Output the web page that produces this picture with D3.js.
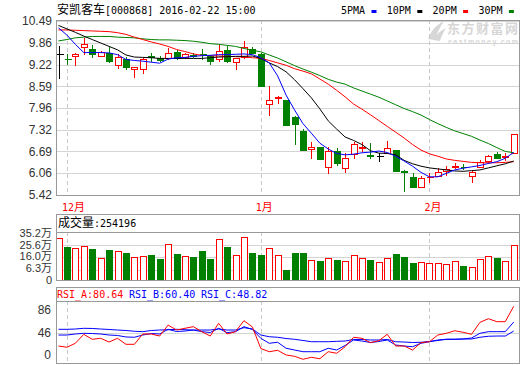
<!DOCTYPE html>
<html>
<head>
<meta charset="utf-8">
<title>安凯客车 K线</title>
<style>
  html, body { margin: 0; padding: 0; background: #fff; }
  svg { display: block; }
  text { white-space: pre; }
</style>
<script src="https://cdn.jsdelivr.net/npm/d3@7/dist/d3.min.js"></script>
</head>
<body>
<svg id="chart" width="520" height="365"></svg>
<script>
// ---- data ----
const dates = [
  '2015-11-30','2015-12-01','2015-12-02','2015-12-03','2015-12-04','2015-12-07','2015-12-08','2015-12-09','2015-12-10','2015-12-11',
  '2015-12-14','2015-12-15','2015-12-16','2015-12-17','2015-12-18','2015-12-21','2015-12-22','2015-12-23','2015-12-24','2015-12-25',
  '2015-12-28','2015-12-29','2015-12-30','2015-12-31','2016-01-04','2016-01-05','2016-01-06','2016-01-07','2016-01-08','2016-01-11',
  '2016-01-12','2016-01-13','2016-01-14','2016-01-15','2016-01-18','2016-01-19','2016-01-20','2016-01-21','2016-01-22','2016-01-25',
  '2016-01-26','2016-01-27','2016-01-28','2016-01-29','2016-02-01','2016-02-02','2016-02-03','2016-02-04','2016-02-05','2016-02-15',
  '2016-02-16','2016-02-17','2016-02-18','2016-02-19','2016-02-22'];
const open = [9.52,9.39,9.47,9.72,9.67,9.47,9.55,9.20,9.37,9.10, 9.10,9.46,9.42,9.40,9.60,9.45,9.50,9.54,9.47,9.37,
  9.64,9.29,9.45,9.67,9.53,8.06,8.24,8.19,7.68,7.29, 6.75,6.83,6.23,6.70,6.20,6.61,6.78,6.58,6.57,6.65,
  6.73,6.12,5.95,5.66,5.93,5.98,6.13,6.23,6.25,5.98, 6.24,6.41,6.62,6.52,6.65];
const high = [9.77,9.52,9.57,9.99,9.79,9.62,9.72,9.53,9.45,9.14, 9.40,9.55,9.47,9.69,9.65,9.57,9.55,9.67,9.50,9.79,
  9.76,9.40,9.91,9.72,9.55,8.60,8.31,8.19,7.72,7.34, 6.96,6.83,6.83,6.78,6.64,6.97,6.97,6.93,6.64,6.99,
  6.73,6.15,6.05,5.97,6.07,6.22,6.27,6.36,6.32,6.15, 6.44,6.58,6.66,6.65,7.21];
const low = [8.82,9.23,9.20,9.52,9.43,9.47,9.30,9.13,9.08,8.87, 8.97,9.33,9.33,9.37,9.38,9.42,9.44,9.37,9.24,9.33,
  9.30,9.10,9.40,9.55,8.60,7.75,8.11,7.46,6.91,6.73, 6.51,6.47,6.07,6.29,6.10,6.49,6.70,6.51,6.41,6.64,
  6.13,5.55,5.64,5.66,5.81,5.98,5.99,6.22,6.17,5.81, 6.23,6.34,6.49,6.44,6.65];
const close = [9.52,9.38,9.52,9.82,9.52,9.59,9.33,9.43,9.14,9.14, 9.37,9.45,9.35,9.57,9.40,9.52,9.47,9.53,9.33,9.62,
  9.33,9.40,9.72,9.57,8.60,8.18,8.28,7.46,7.49,6.73, 6.82,6.47,6.70,6.34,6.49,6.91,6.83,6.57,6.57,6.78,
  6.13,6.08,5.66,5.91,5.94,6.10,6.19,6.27,6.24,6.10, 6.39,6.56,6.51,6.56,7.21];
// volume in 万股
const volume = [30.8,24.0,23.0,24.6,22.5,15.2,21.7,20.7,19.3,16.0, 16.8,17.8,14.7,26.1,18.6,16.8,16.2,20.9,14.7,30.0,
  24.0,17.5,31.6,19.3,17.8,23.0,17.5,6.1,19.3,19.3, 13.6,13.1,15.2,13.9,12.9,17.5,15.2,13.9,12.1,15.2,
  18.6,16.2,11.5,12.1,11.5,11.3,10.5,12.9,9.2,8.2, 14.4,16.8,15.4,12.9,25.4196];
const ma5 = [10.29,10.08,9.81,9.57,9.57,9.57,9.56,9.51,9.37,9.34, 9.32,9.29,9.26,9.38,9.42,9.43,9.46,9.48,9.49,9.51,
  9.51,9.52,9.53,9.51,9.42,9.27,8.89,8.33,7.90,7.50, 7.22,6.93,6.76,6.63,6.59,6.61,6.65,6.67,6.70,6.66,
  6.55,6.41,6.26,6.08,5.95,5.95,6.05,6.15,6.20,6.24, 6.28,6.34,6.39,6.49,6.66];
const ma10 = [10.36,10.26,10.16,10.05,9.95,9.85,9.75,9.65,9.50,9.44, 9.43,9.42,9.40,9.40,9.40,9.40,9.40,9.40,9.42,9.44,
  9.45,9.46,9.46,9.47,9.40,9.27,9.16,9.01,8.78,8.52, 8.25,7.93,7.58,7.34,7.11,7.01,6.89,6.71,6.64,6.63,
  6.59,6.43,6.33,6.26,6.21,6.18,6.15,6.12,6.11,6.13, 6.15,6.21,6.27,6.33,6.41];
const ma20 = [10.23,10.23,10.22,10.21,10.20,10.19,10.18,10.15,10.10,10.02, 9.95,9.88,9.82,9.75,9.66,9.60,9.53,9.49,9.48,9.47,
  9.46,9.45,9.44,9.42,9.40,9.34,9.27,9.20,9.10,9.03, 8.95,8.80,8.65,8.47,8.28,8.07,7.92,7.76,7.59,7.42,
  7.25,7.08,6.89,6.73,6.62,6.55,6.47,6.43,6.40,6.37, 6.36,6.36,6.36,6.37,6.39];
const ma30 = [9.91,9.95,10.00,10.02,10.04,10.04,10.04,10.02,10.01,10.00, 9.97,9.95,9.94,9.94,9.93,9.92,9.90,9.87,9.83,9.81,
  9.78,9.75,9.69,9.64,9.59,9.50,9.41,9.30,9.19,9.09, 9.00,8.90,8.79,8.71,8.65,8.54,8.45,8.36,8.27,8.16,
  8.05,7.94,7.85,7.75,7.62,7.50,7.39,7.29,7.21,7.13, 7.02,6.92,6.80,6.69,6.65];
const rsiA = [29.7,28.1,33.2,44.7,38.3,39.6,34.8,39.6,31.9,31.9, 45.1,45.1,42.5,56.6,50.2,52.4,54.5,48.1,42.5,58.8,
  45.1,48.1,62.2,54.1,26.5,22.4,24.2,18.2,16.5,12.7, 15.2,13.4,22.4,20.4,28.8,40.9,39.6,34.0,36.5,44.7,
  29.7,29.7,24.6,34.0,35.2,43.8,46.0,49.3,47.3,44.7, 60.1,64.7,60.9,60.9,80.64];
const rsiB = [43.8,43.8,45.1,46.0,45.7,45.1,43.8,43.2,41.3,40.9, 43.8,45.7,45.1,51.1,48.3,48.9,50.2,48.1,47.0,52.4,
  46.8,48.1,54.5,50.9,39.6,33.2,34.5,26.8,24.6,22.4, 22.4,22.4,26.8,24.6,30.4,37.4,36.1,34.2,35.5,37.4,
  31.0,29.7,28.8,33.2,35.2,37.4,38.3,38.3,38.7,40.0, 46.0,48.1,48.1,48.1,60.40];
const rsiC = [51.1,51.1,51.5,52.4,52.2,51.5,50.9,50.2,49.6,48.6, 48.1,49.6,50.2,50.6,51.1,50.6,50.2,50.2,50.2,51.5,
  50.2,50.2,53.2,51.5,43.8,41.6,40.9,39.3,38.3,36.8, 35.2,35.2,35.2,35.7,36.1,38.1,38.1,37.4,37.4,38.1,
  35.2,34.8,34.2,34.5,35.5,36.8,38.3,38.4,38.7,38.7, 40.9,42.2,42.5,42.5,48.82];

const priceTicks = [10.49, 9.86, 9.22, 8.59, 7.96, 7.32, 6.69, 6.06, 5.42];
const volTicks = [35.2, 25.6, 16.0, 6.3];
const volTickLabels = ['35.2万', '25.6万', '16.0万', '6.3万', '0'];
const rsiTickLabels = ['86', '46', '0'];
const monthStarts = ['2015-12-01', '2016-01-04', '2016-02-01'];
const monthLabels = ['12月', '1月', '2月'];
const maNames = ['5PMA', '10PM', '20PM', '30PM'];

// ---- layout ----
const RED = '#ff0000', GREEN = '#008000', BLUE = '#0000ff';
const BORDER = '#999', GRID = '#d4d4d4';
const L = 56, R = 519;
const main = {top: 20, bottom: 195};
const volHead = {top: 214, bottom: 232};
const vol = {top: 232, bottom: 280};
const rsiHead = {top: 287, bottom: 301};
const rsiBox = {top: 301, bottom: 363};
const MONO = '"DejaVu Sans Mono", monospace';
const CJK = '"Noto Sans CJK SC", sans-serif';
const SANS = '"Liberation Sans", "Noto Sans CJK SC", sans-serif';

const px = v => Math.round(v) + 0.5;
const svg = d3.select('#chart');

const x = d3.scalePoint().domain(dates).range([58.5, 513.7]);
const yP = d3.scaleLinear().domain([5.42, 10.49]).range([main.bottom, 21]);
const yV = d3.scaleLinear().domain([0, 35.2]).range([277.8, 232.7]);
const yVLabel = d3.scalePoint().domain(volTickLabels).range([232.7, 280]);
const yR = d3.scaleLinear().domain([46, 86]).range([333.3, 302.1]);
const yRLabel = d3.scalePoint().domain(rsiTickLabels).range([310, 355]);

// mixed text: ascii in mono, cjk in a CJK face
function mixText(sel, str, asciiSize, cjkSize) {
  str.split(/([\u3000-\u9fff]+)/).filter(s => s.length).forEach(part => {
    const isCjk = /[\u3000-\u9fff]/.test(part);
    sel.append('tspan')
      .attr('font-family', isCjk ? CJK : MONO)
      .attr('font-size', isCjk ? cjkSize : asciiSize)
      .text(part);
  });
  return sel;
}

// ---- header ----
mixText(svg.append('text').attr('x', 57).attr('y', 14).attr('fill', '#000'),
  '安凯客车[000868] 2016-02-22 15:00', 10, 12);

const maColors = [BLUE, '#000', RED, GREEN];
const legend = svg.append('g').selectAll('g').data(maNames).join('g')
  .attr('transform', (d, i) => `translate(${341 + i * 45.8},0)`);
legend.append('text').attr('y', 14).attr('font-family', MONO).attr('font-size', 10).text(d => d);
legend.append('rect').attr('x', 30.5).attr('y', 10).attr('width', 5).attr('height', 3)
  .attr('fill', (d, i) => maColors[i]);

// watermark
const wm = svg.append('g').attr('fill', '#d6d6d6');
wm.append('path').attr('d', 'M428,39 C431,31 436,25 444,21 C440,27 437,33 435,40 Z M433,40 C437,34 441,30 446,28 C443,33 441,37 440,41 Z');
wm.append('text').attr('x', 447).attr('y', 33).attr('font-family', CJK).attr('font-weight', 'bold')
  .attr('font-size', 13).attr('textLength', 71).text('东方财富网');
wm.append('text').attr('x', 448).attr('y', 44).attr('font-family', '"Liberation Sans", sans-serif')
  .attr('font-weight', 'bold').attr('font-size', 7).attr('textLength', 70).text('eastmoney.com');

// ---- grids ----
const grid = svg.append('g').attr('stroke', GRID).attr('shape-rendering', 'crispEdges');
grid.selectAll('.gp').data(priceTicks).join('line').attr('class', 'gp')
  .attr('x1', L).attr('x2', R).attr('y1', d => px(yP(d))).attr('y2', d => px(yP(d)));
grid.selectAll('.gv').data(volTicks.filter(d => d < 35.2)).join('line').attr('class', 'gv')
  .attr('x1', L).attr('x2', R).attr('y1', d => px(yV(d))).attr('y2', d => px(yV(d)));
grid.append('line').attr('x1', L).attr('x2', R).attr('y1', px(yR(46))).attr('y2', px(yR(46)));

const dash = svg.append('g').attr('stroke', '#c8c8c8').attr('stroke-dasharray', '4,3')
  .attr('shape-rendering', 'crispEdges');
[main, vol, rsiBox].forEach(p => {
  dash.append('g').selectAll('line').data(monthStarts).join('line')
    .attr('x1', d => px(x(d))).attr('x2', d => px(x(d)))
    .attr('y1', p.top).attr('y2', p.bottom);
});

// ---- axes ----
function styleAxis(g, size) {
  g.select('.domain').remove();
  g.attr('font-family', SANS).attr('font-size', size).attr('color', '#333');
}
svg.append('g').attr('transform', `translate(${L},0)`)
  .call(d3.axisLeft(yP).tickValues(priceTicks).tickSize(0).tickPadding(4).tickFormat(d3.format('.2f')))
  .call(g => styleAxis(g, 12));
svg.append('g').attr('transform', `translate(${L},0)`)
  .call(d3.axisLeft(yVLabel).tickSize(0).tickPadding(4))
  .call(g => styleAxis(g, 11));
svg.append('g').attr('transform', `translate(${L},0)`)
  .call(d3.axisLeft(yRLabel).tickSize(0).tickPadding(5))
  .call(g => styleAxis(g, 12));

// month labels
svg.append('g').selectAll('text').data(monthStarts).join('text')
  .attr('x', d => x(d) - 5).attr('y', 211).attr('fill', RED)
  .each(function (d, i) { mixText(d3.select(this), monthLabels[i], 10, 11); });

// ---- candles ----
const bars = dates.map((d, i) => ({date: d, o: open[i], h: high[i], l: low[i], c: close[i], v: volume[i]}));
const candleColor = d => d.c > d.o ? RED : d.c < d.o ? GREEN : '#000';
const cg = svg.append('g').attr('shape-rendering', 'crispEdges');
cg.selectAll('.wick').data(bars).join('line').attr('class', 'wick')
  .attr('x1', d => px(x(d.date))).attr('x2', d => px(x(d.date)))
  .attr('y1', d => Math.round(yP(d.h))).attr('y2', d => Math.round(yP(d.l)) + 1)
  .attr('stroke', candleColor);
const bodyTop = d => Math.round(yP(Math.max(d.o, d.c)));
const bodyH = d => Math.round(yP(Math.min(d.o, d.c))) - bodyTop(d);
cg.selectAll('.body').data(bars.filter(d => bodyH(d) >= 1)).join('rect').attr('class', 'body')
  .attr('x', d => px(x(d.date)) - 3).attr('y', d => bodyTop(d) + 0.5)
  .attr('width', 6).attr('height', bodyH)
  .attr('fill', d => d.c > d.o ? '#fff' : GREEN).attr('stroke', candleColor);
cg.selectAll('.cross').data(bars.filter(d => bodyH(d) < 1)).join('line').attr('class', 'cross')
  .attr('x1', d => px(x(d.date)) - 3).attr('x2', d => px(x(d.date)) + 4)
  .attr('y1', d => bodyTop(d) + 0.5).attr('y2', d => bodyTop(d) + 0.5)
  .attr('stroke', candleColor);

// ---- moving averages ----
const priceLine = d3.line().x((d, i) => x(dates[i])).y(d => yP(d));
[ma30, ma20, ma10, ma5].forEach((s, k) => {
  svg.append('path').datum(s).attr('d', priceLine).attr('fill', 'none')
    .attr('stroke', [GREEN, RED, '#000', BLUE][k]).attr('stroke-width', 1);
});

// ---- volume ----
svg.append('g').attr('shape-rendering', 'crispEdges')
  .selectAll('rect').data(bars).join('rect')
  .attr('x', d => px(x(d.date)) - 3).attr('y', d => px(yV(d.v)))
  .attr('width', 6).attr('height', d => vol.bottom - px(yV(d.v)))
  .attr('fill', d => d.c >= d.o ? '#fff' : GREEN)
  .attr('stroke', d => d.c >= d.o ? RED : GREEN);

// ---- RSI ----
const rsiLine = d3.line().x((d, i) => x(dates[i])).y(d => yR(d));
[[rsiC, BLUE], [rsiB, BLUE], [rsiA, RED]].forEach(([s, col]) => {
  svg.append('path').datum(s).attr('d', rsiLine).attr('fill', 'none').attr('stroke', col).attr('stroke-width', 1);
});

// ---- frames ----
const frame = svg.append('g').attr('fill', 'none').attr('stroke', BORDER).attr('shape-rendering', 'crispEdges');
frame.append('rect').attr('x', L + 0.5).attr('y', main.top + 0.5).attr('width', R - L).attr('height', main.bottom - main.top);
frame.append('rect').attr('x', L + 0.5).attr('y', volHead.top + 0.5).attr('width', R - L).attr('height', vol.bottom - volHead.top);
frame.append('line').attr('x1', L).attr('x2', R + 1).attr('y1', volHead.bottom + 0.5).attr('y2', volHead.bottom + 0.5);
frame.append('rect').attr('x', L + 0.5).attr('y', rsiHead.top + 0.5).attr('width', R - L).attr('height', rsiBox.bottom - rsiHead.top);
frame.append('line').attr('x1', L).attr('x2', R + 1).attr('y1', rsiHead.bottom + 0.5).attr('y2', rsiHead.bottom + 0.5);

// ---- panel headers ----
mixText(svg.append('text').attr('x', 58).attr('y', 227).attr('fill', '#000'),
  '成交量:' + Math.round(volume[volume.length - 1] * 10000), 10, 12);
const rsiHeads = [['RSI_A', rsiA, RED], ['RSI_B', rsiB, BLUE], ['RSI_C', rsiC, BLUE]];
svg.append('g').selectAll('text').data(rsiHeads).join('text')
  .attr('x', (d, i) => 57 + i * 72).attr('y', 298)
  .attr('font-family', MONO).attr('font-size', 10).attr('fill', d => d[2])
  .text(d => d[0] + ':' + d[1][d[1].length - 1].toFixed(2));
</script>
</body>
</html>
